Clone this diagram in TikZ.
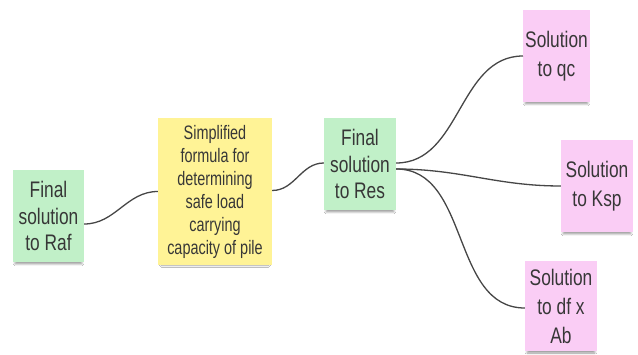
\documentclass[tikz,border=0pt]{standalone}
\usepackage{fontspec}
\setmainfont{Liberation Sans}
\newfontfamily\notefont[FakeStretch=0.77]{Liberation Sans}
\newfontfamily\notefontnarrow[FakeStretch=0.74]{Liberation Sans}
\usetikzlibrary{shadows.blur}
\definecolor{notegreen}{RGB}{193,240,200}
\definecolor{noteyellow}{RGB}{255,243,150}
\definecolor{notepink}{RGB}{250,205,245}
\definecolor{inktext}{RGB}{55,55,55}
\definecolor{inkline}{RGB}{70,70,70}
\tikzset{
  note/.style={rectangle, inner sep=2pt, align=center, text=inktext,
    blur shadow={shadow xshift=0pt, shadow yshift=-5pt, shadow scale=0.94, shadow opacity=40, shadow blur steps=8}},
  greennote/.style={note, fill=notegreen, font=\notefont\fontsize{22.5}{26.5}\selectfont},
  pinknote/.style={note, fill=notepink, font=\notefont\fontsize{22.5}{29}\selectfont},
  yellownote/.style={note, fill=noteyellow, font=\notefontnarrow\fontsize{19.5}{23}\selectfont},
  link/.style={draw=inkline, line width=1.3pt, out=0, in=180}
}
\begin{document}
\begin{tikzpicture}[x=1pt, y=1pt]
  \useasboundingbox[fill=white] (0,0) rectangle (638,354);

  \node[greennote, minimum width=71pt, minimum height=92pt] (raf) at (48.5,138) {Final\\solution\\to Raf};
  \node[yellownote, minimum width=114pt, minimum height=147pt] (formula) at (215,162.5)
    {Simplified\\formula for\\determining\\safe load\\carrying\\capacity of pile};
  \node[greennote, minimum width=72pt, minimum height=92pt] (res) at (360,190) {Final\\solution\\to Res};
  \node[pinknote, minimum width=63pt, minimum height=92pt] (qc) at (556.5,298) {Solution\\to qc};
  \node[pinknote, minimum width=72pt, minimum height=92pt] (ksp) at (597,168) {Solution\\to Ksp};
  \node[pinknote, minimum width=72pt, minimum height=90pt] (ab) at (561,48) {Solution\\to df x\\Ab};

  \draw[link] ([yshift=-8pt]raf.east) to (formula.west);
  \draw[link] ([yshift=1pt]formula.east) to ([yshift=1pt]res.west);
  \draw[link] ([yshift=1pt]res.east) to (qc.west);
  \draw[link] ([yshift=-5pt]res.east) to (ksp.west);
  \draw[link] ([yshift=-5pt]res.east) to ([yshift=-2pt]ab.west);
\end{tikzpicture}
\end{document}
